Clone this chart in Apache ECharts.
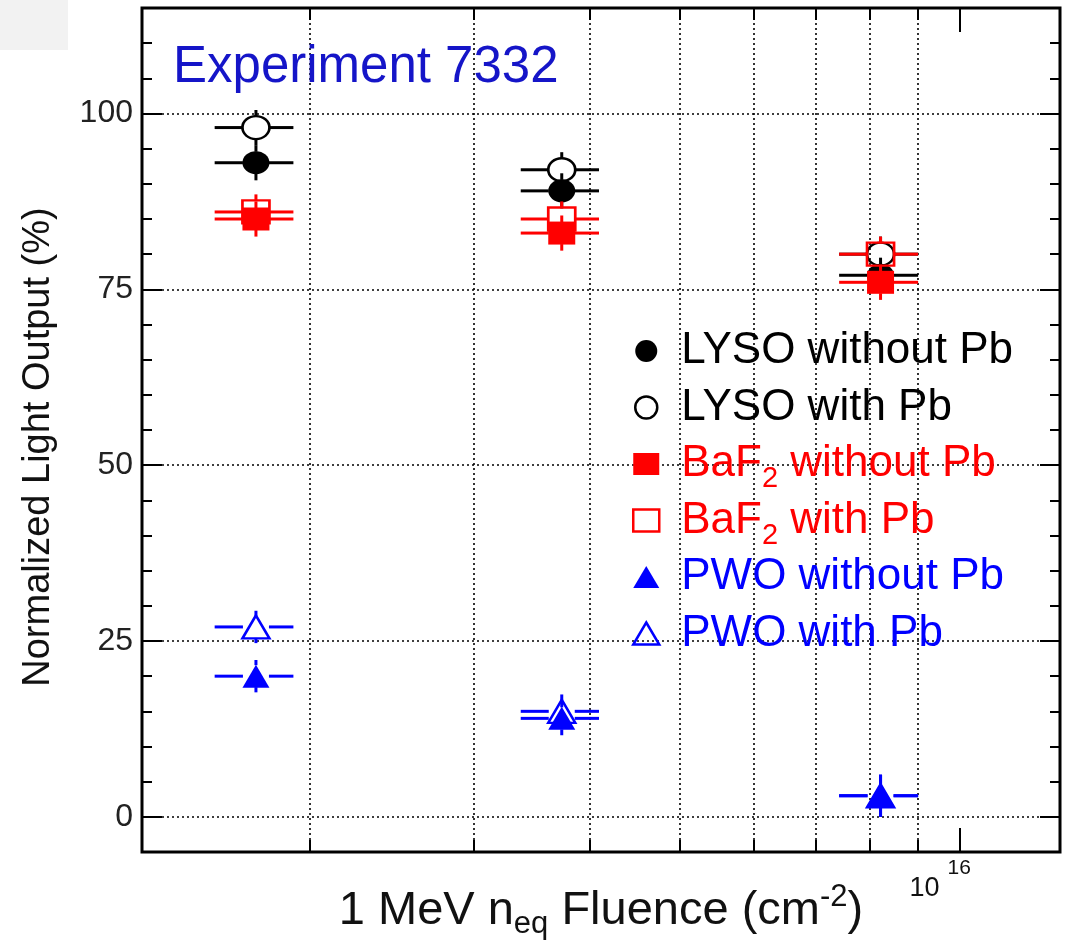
<!DOCTYPE html>
<html>
<head>
<meta charset="utf-8">
<script src="https://cdn.jsdelivr.net/npm/echarts@6/dist/echarts.min.js"></script>
<style>
html,body{margin:0;padding:0;background:#fff;}
#chart{width:1066px;height:941px;}
</style>
</head>
<body>
<div id="chart"></div>
<script>
// ---- data ----
const fluence = [1.75e15, 3.73e15, 8.21e15];
const fluenceErr = [0.17e15, 0.36e15, 0.80e15];
const lysoWithout = [93, 89, 77];
const lysoWith = [98, 92, 80];
const baf2Without = [85, 83, 76];
const baf2With = [86, 85, 80];
const pwoWithout = [20, 14, 3];
const pwoWith = [27, 15, 3];
const lysoErr = [2.5, 2.5, 2.5];
const baf2Err = [2.5, 2.5, 2.5];
const pwoErr = [2.3, 2.4, 3.0];
const yTickLabels = [0, 25, 50, 75, 100];
const xMinorTicks = [2e15, 3e15, 4e15, 5e15, 6e15, 7e15, 8e15, 9e15];
const xMajorTicks = [1e16];
const seriesNames = ['LYSO without Pb', 'LYSO with Pb', 'BaF2 without Pb', 'BaF2 with Pb', 'PWO without Pb', 'PWO with Pb'];

const defs = [
  {name: seriesNames[0], vals: lysoWithout, err: lysoErr, color: '#000000', symbol: 'circle', filled: true},
  {name: seriesNames[1], vals: lysoWith, err: lysoErr, color: '#000000', symbol: 'circle', filled: false},
  {name: seriesNames[2], vals: baf2Without, err: baf2Err, color: '#ff0000', symbol: 'rect', filled: true},
  {name: seriesNames[3], vals: baf2With, err: baf2Err, color: '#ff0000', symbol: 'rect', filled: false},
  {name: seriesNames[4], vals: pwoWithout, err: pwoErr, color: '#0000ff', symbol: 'triangle', filled: true},
  {name: seriesNames[5], vals: pwoWith, err: pwoErr, color: '#0000ff', symbol: 'triangle', filled: false}
];

const FONT = '"Liberation Sans", Arial, Helvetica, sans-serif';
const GAPX = 13, GAPY = 11;

function errRender(color) {
  return function (params, api) {
    const x = api.value(0), y = api.value(1), ex = api.value(2), ey = api.value(3);
    const c = api.coord([x, y]);
    const l = api.coord([x - ex, y]);
    const r = api.coord([x + ex, y]);
    const t = api.coord([x, y + ey]);
    const b = api.coord([x, y - ey]);
    const st = {stroke: color, lineWidth: 3};
    const segs = [];
    if (c[0] - GAPX > l[0]) segs.push([l[0], c[1], c[0] - GAPX, c[1]]);
    if (r[0] > c[0] + GAPX) segs.push([c[0] + GAPX, c[1], r[0], c[1]]);
    if (c[1] - GAPY > t[1]) segs.push([c[0], t[1], c[0], c[1] - GAPY]);
    if (b[1] > c[1] + GAPY) segs.push([c[0], c[1] + GAPY, c[0], b[1]]);
    return {
      type: 'group',
      children: segs.map(s => ({type: 'line', shape: {x1: s[0], y1: s[1], x2: s[2], y2: s[3]}, style: st}))
    };
  };
}

const series = [];
defs.forEach((d, i) => {
  series.push({
    type: 'custom',
    name: d.name,
    xAxisIndex: 0, yAxisIndex: 0,
    z: 10 + i * 2,
    renderItem: errRender(d.color),
    data: fluence.map((f, k) => [f, d.vals[k], fluenceErr[k], d.err[k]]),
    silent: true
  });
  series.push({
    type: 'scatter',
    name: d.name,
    xAxisIndex: 0, yAxisIndex: 0,
    z: 11 + i * 2,
    symbol: d.symbol,
    symbolSize: [27, 23],
    itemStyle: d.filled ? {color: d.color, opacity: 1} : {color: 'rgba(0,0,0,0)', borderColor: d.color, borderWidth: 2.5, opacity: 1},
    emphasis: {disabled: true},
    data: fluence.map((f, k) => [f, d.vals[k]])
  });
});

const xRange = {min: 1.32e15, max: 1.28e16};
const yRange = {min: -5, max: 115};

function xAx(extra) {
  return Object.assign({
    type: 'log', min: xRange.min, max: xRange.max,
    axisLine: {show: false, onZero: false},
    axisLabel: {show: false},
    splitLine: {show: false}
  }, extra);
}
function yAx(extra) {
  return Object.assign({
    type: 'value', min: yRange.min, max: yRange.max,
    axisLine: {show: false, onZero: false},
    axisLabel: {show: false},
    splitLine: {show: false}
  }, extra);
}
const tickLine = {color: '#000', width: 2};

const option = {
  animation: false,
  backgroundColor: '#ffffff',
  graphic: [
    {type: 'rect', left: 0, top: 0, shape: {width: 68, height: 50}, style: {fill: '#f2f2f2'}, z: -1}
  ],
  title: {
    text: 'Experiment 7332',
    left: 168, top: 37,
    textStyle: {fontFamily: FONT, fontSize: 51, fontWeight: 'normal', color: '#1515c8'}
  },
  grid: {left: 142, right: 6, top: 8, bottom: 89, outerBoundsMode: 'none', containLabel: false,
         show: true, borderColor: '#000', borderWidth: 3, backgroundColor: 'transparent'},
  legend: {
    orient: 'vertical',
    left: 627, top: 324,
    itemWidth: 26, itemHeight: 22,
    itemGap: 5,
    selectedMode: false,
    textStyle: {
      fontFamily: FONT, fontSize: 44, lineHeight: 42, padding: [0, 0, 0, 17],
      rich: {
        n: {fontFamily: FONT, fontSize: 44, lineHeight: 42},
        s: {fontFamily: FONT, fontSize: 29, lineHeight: 42, padding: [0, 0, -30, 0]}
      }
    },
    formatter: function (name) {
      if (name.indexOf('BaF2') === 0) {
        return '{n|BaF}{s|2}{n|' + name.slice(4) + '}';
      }
      return '{n|' + name + '}{s| }';
    },
    data: defs.map(d => ({
      name: d.name,
      icon: d.symbol,
      itemStyle: d.filled ? {color: d.color, borderWidth: 0, opacity: 1} : {color: 'rgba(0,0,0,0)', borderColor: d.color, borderWidth: 2.5, opacity: 1},
      textStyle: {color: d.color}
    }))
  },
  xAxis: [
    xAx({
      position: 'bottom',
      axisTick: {show: true, inside: true, length: 12, lineStyle: tickLine, customValues: xMinorTicks},
      splitLine: {show: true, lineStyle: {color: '#000', width: 1.6, type: [2, 3]}},
      name: '{a|1 MeV n}{sub|eq}{a| Fluence (cm}{sup|-2}{a|)}',
      nameLocation: 'middle', nameGap: 30,
      nameTextStyle: {
        fontFamily: FONT, color: '#111',
        rich: {
          a: {fontFamily: FONT, fontSize: 47, lineHeight: 58, color: '#111'},
          sub: {fontFamily: FONT, fontSize: 31, lineHeight: 30, verticalAlign: 'bottom', color: '#111'},
          sup: {fontFamily: FONT, fontSize: 31, lineHeight: 30, verticalAlign: 'top', color: '#111'}
        }
      }
    }),
    xAx({
      position: 'bottom',
      axisTick: {show: true, inside: true, length: 24, lineStyle: tickLine, customValues: xMajorTicks},
      axisLabel: {
        show: true, customValues: xMajorTicks, margin: 6,
        formatter: function () { return '{n|10}{s|16}'; },
        padding: [0, 40, 0, 0],
        rich: {
          n: {fontFamily: FONT, fontSize: 27, lineHeight: 44, color: '#111', verticalAlign: 'bottom'},
          s: {fontFamily: FONT, fontSize: 21, lineHeight: 22, color: '#111', verticalAlign: 'top', padding: [0, 0, 0, 8]}
        }
      }
    }),
    xAx({
      position: 'top',
      axisTick: {show: true, inside: true, length: 12, lineStyle: tickLine, customValues: xMinorTicks}
    }),
    xAx({
      position: 'top',
      axisTick: {show: true, inside: true, length: 24, lineStyle: tickLine, customValues: xMajorTicks}
    })
  ],
  yAxis: [
    yAx({
      position: 'left',
      axisTick: {show: true, inside: true, length: 20, lineStyle: tickLine, customValues: yTickLabels},
      axisLabel: {show: true, customValues: yTickLabels, margin: 9, fontFamily: FONT, fontSize: 32, color: '#222'},
      splitLine: {show: true, lineStyle: {color: '#000', width: 1.6, type: [2, 3]}},
      name: 'Normalized Light Output (%)',
      nameLocation: 'middle', nameGap: 84,
      nameTextStyle: {fontFamily: FONT, fontSize: 38, color: '#111', padding: [0, 34, 0, 0]}
    }),
    yAx({
      position: 'left', interval: 5,
      axisTick: {show: true, inside: true, length: 10, lineStyle: tickLine}
    }),
    yAx({
      position: 'right',
      axisTick: {show: true, inside: true, length: 20, lineStyle: tickLine, customValues: yTickLabels}
    }),
    yAx({
      position: 'right', interval: 5,
      axisTick: {show: true, inside: true, length: 10, lineStyle: tickLine}
    })
  ],
  series: series
};

const chart = echarts.init(document.getElementById('chart'), null, {renderer: 'canvas'});
chart.setOption(option);
</script>
</body>
</html>
